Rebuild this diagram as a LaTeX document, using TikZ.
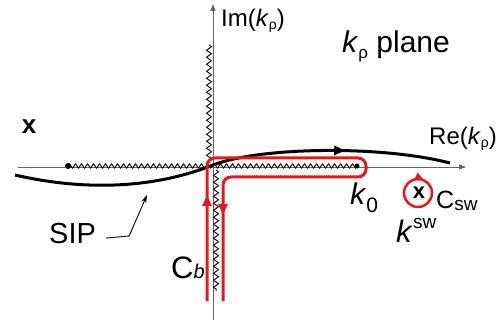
\documentclass[tikz,border=0pt]{standalone}
\usepackage{fontspec}
\setmainfont{Liberation Sans}
\usetikzlibrary{decorations.pathmorphing,decorations.markings,arrows.meta}
\definecolor{cred}{RGB}{232,22,30}
\definecolor{axgray}{RGB}{100,100,100}
\newcommand{\fs}[1]{\fontsize{#1}{#1}\selectfont}
\begin{document}
\begin{tikzpicture}[x=1pt,y=-1pt,
  axisline/.style={draw=axgray, line width=0.8, -{Triangle[length=7,width=5]}},
  cut/.style={draw=black!90, line width=1, decorate, decoration={zigzag, amplitude=2.2, segment length=6}},
  vcut/.style={draw=black!90, line width=1, decorate, decoration={zigzag, amplitude=2.5, segment length=7}},
  lbl/.style={anchor=base west, inner sep=0pt},
  sipcurve/.style={line width=3, postaction={decorate}, decoration={markings, mark=at position 0.76 with {\arrow{Triangle[length=11,width=9]}}}},
  contour/.style={draw=cred, line width=3, rounded corners=8, postaction={decorate},
     decoration={markings, mark=at position 106pt with {\arrow[cred]{Triangle[length=11,width=9]}},
                           mark=at position -86pt with {\arrow[cred]{Triangle[length=11,width=9]}}}},
  swloop/.style={draw=cred, line width=2.5, postaction={decorate},
     decoration={markings, mark=at position 0.82 with {\arrow[cred]{Triangle[length=9,width=8]}}}}
]
\useasboundingbox (0,0) rectangle (503,320);

% axes
\coordinate (xl) at (18,167);
\coordinate (xr) at (466,167);
\coordinate (yb) at (213,320);
\coordinate (yt) at (213,4);
\draw[axisline] (xl) -- (xr);
\draw[axisline] (yb) -- (yt);

% branch cuts
\coordinate (bpL) at (68,166);
\coordinate (o) at (213,166);
\coordinate (k0pt) at (357,166);
\coordinate (vu1) at (209,45);
\coordinate (vu2) at (209,163);
\coordinate (vd1) at (216,170);
\coordinate (vd2) at (216,291);
\draw[cut] (bpL) -- (o);
\draw[cut] (o) -- (k0pt);
\draw[vcut] (vu1) -- (vu2);
\draw[vcut] (vd1) -- (vd2);
\fill (bpL) circle[radius=3];
\fill (k0pt) circle[radius=2.5];

% SIP
\coordinate (s0) at (15,175);
\coordinate (s1) at (213,165);
\coordinate (s2) at (450,163);
\draw[sipcurve] (s0) .. controls (80,190) and (150,190) .. (s1) .. controls (260,147) and (380,145) .. (s2);

% red contour C_b
\coordinate (cb1) at (207,301);
\coordinate (cb2) at (223,301);
\draw[contour] (cb1) -- (207,158) -- (366,158) -- (366,177) -- (223,177) -- (cb2);

% pole
\node[inner sep=0pt, font=\fs{22}\bfseries] (pole) at (419,193) {x};
\draw[swloop] (418,193) circle[radius=14];
\node[inner sep=0pt, font=\fs{26}\bfseries] (xleft) at (29,127) {x};

% labels
\node[lbl, font=\fs{24}] (im) at (221,27) {Im(\textit{k}\raisebox{-3pt}{\fs{14}ρ})};
\node[lbl, font=\fs{30}] (plane) at (342,53) {\textit{k}\raisebox{-6pt}{\fs{17}ρ} plane};
\node[lbl, font=\fs{24}] (re) at (429,145) {Re(\textit{k}\raisebox{-3pt}{\fs{14}ρ})};
\node[lbl, font=\fs{29}] (sip) at (49,244) {SIP};
\node[lbl, font=\fs{31}] (cb) at (171,278) {C\raisebox{-1pt}{\fs{20}\textit{b}}};
\node[lbl, font=\fs{30}] (k0) at (350,205) {\textit{k}\raisebox{-8pt}{\fs{21}0}};
\node[lbl, font=\fs{25}] (csw) at (436,209) {C\raisebox{-2pt}{\fs{19}sw}};
\node[lbl, font=\fs{31}] (ksw) at (396,243) {\textit{k}\raisebox{14pt}{\fs{19}sw}};

% SIP pointer
\coordinate (sipA) at (147,195);
\draw[line width=0.9, -{Stealth[length=8,width=5]}] ([xshift=10pt,yshift=-4pt]sip.east) -- ++(23,-2) -- (sipA);
\end{tikzpicture}
\end{document}
